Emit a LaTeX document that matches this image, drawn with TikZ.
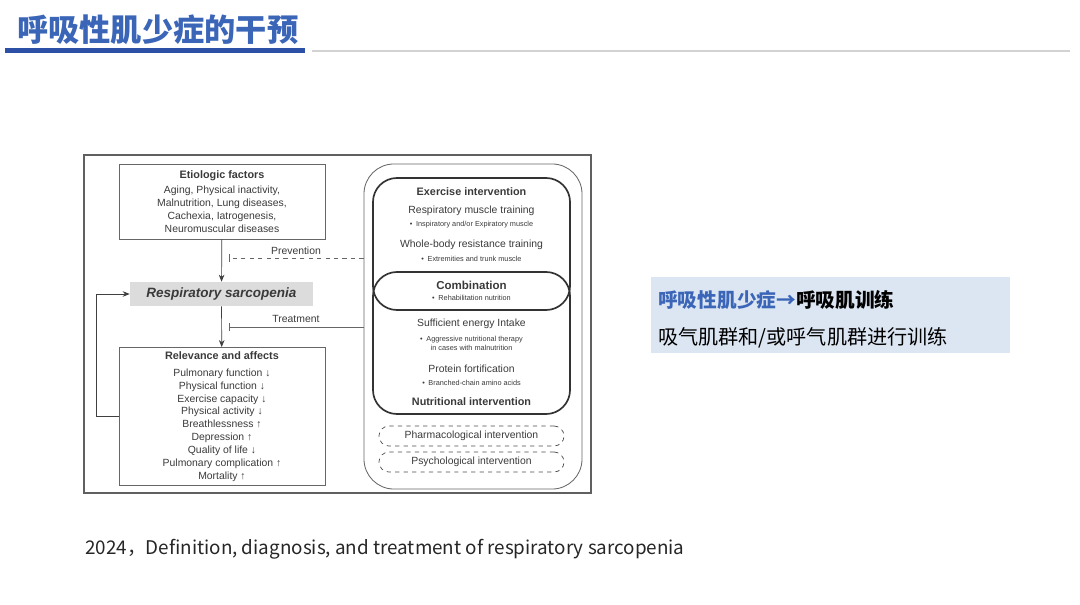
\documentclass[tikz,border=0pt]{standalone}
\usepackage{fontspec}
\setmainfont{Liberation Sans}
\newfontfamily\cjk{Noto Sans CJK SC}
\usetikzlibrary{arrows.meta,positioning,calc}

\definecolor{titleblue}{HTML}{3B66B8}
\definecolor{barblue}{HTML}{2C50A6}
\definecolor{panelblue}{HTML}{DCE5F2}
\definecolor{figtext}{HTML}{3A3A3A}
\definecolor{sarcgray}{HTML}{DCDCDC}

\tikzset{
  box/.style={draw=gray!80!black, line width=0.6pt},
  ivbox/.style={draw=black!80, line width=1.2pt, rounded corners=0.6cm},
  optbox/.style={draw=black!70, dashed, line width=0.5pt, rounded corners=0.25cm},
  arr/.style={-{Stealth[length=5pt,width=4pt]}, line width=0.5pt, draw=black!75},
  inhib/.style={-{Bar[width=6pt]}, line width=0.5pt, draw=black!60},
  txt/.style={font=\fontsize{7.4}{9.2}\selectfont, text=figtext, align=center, inner sep=0pt},
  small/.style={font=\fontsize{5.2}{6.4}\selectfont, text=figtext, align=center, inner sep=0pt},
  head/.style={font=\fontsize{7.7}{9}\selectfont\bfseries, text=figtext, inner sep=0pt},
}

\begin{document}
\begin{tikzpicture}[x=0.025cm, y=-0.025cm]
  \useasboundingbox (0,0) rectangle (1080,605);

  % slide title
  \node[anchor=west, inner sep=0pt, font=\cjk\bfseries\fontsize{22.2}{26}\selectfont,
    text=titleblue] (title) at (17,30) {呼吸性肌少症的干预};
  \fill[barblue] (5,48) rectangle (305,53);
  \draw[gray!35, line width=0.8pt] (312,51) -- (1070,51);

  % figure frame
  \node[draw=gray!75!black, line width=0.9pt, minimum width=12.675cm,
    minimum height=8.45cm] (frame) at (337.5,324) {};

  % left column
  \node[box, txt, minimum width=5.15cm, minimum height=1.875cm] (etio) at (222,201.5)
    {\textbf{\fontsize{7.7}{9}\selectfont Etiologic factors}\\[1.8pt]
     Aging, Physical inactivity,\\ Malnutrition, Lung diseases,\\
     Cachexia, Iatrogenesis,\\ Neuromuscular diseases};
  \node[fill=sarcgray, minimum width=4.575cm, minimum height=0.6cm, inner sep=0pt,
    font=\fontsize{9.6}{11}\selectfont\bfseries\itshape, text=figtext]
    (sarc) at (221.5,294) {Respiratory sarcopenia};
  \node[box, txt, minimum width=5.15cm, minimum height=3.45cm] (rel) at (222,416.5)
    {\textbf{\fontsize{7.7}{9}\selectfont Relevance and affects}\\[3pt]
     Pulmonary function ↓\\ Physical function ↓\\ Exercise capacity ↓\\
     Physical activity ↓\\ Breathlessness ↑\\ Depression ↑\\ Quality of life ↓\\
     Pulmonary complication ↑\\ Mortality ↑};

  \draw[arr] (etio) -- (sarc);
  \draw[arr] (sarc) -- (rel);
  \draw[arr] (rel.west) -- ++(-22,0) |- (sarc.west);

  % interventions
  \node[draw=black!60, line width=0.6pt, rounded corners=0.75cm, minimum width=5.45cm,
    minimum height=8.125cm] (outer) at (473,326.5) {};
  \node[ivbox, minimum width=4.925cm, minimum height=3.3cm] (exer) at (471.5,244) {};
  \node[ivbox, minimum width=4.925cm, minimum height=3.55cm] (nutr) at (471.5,343) {};

  \node[head] (exertitle) at (471.5,192) {Exercise intervention};
  \node[txt] (rmt) at (471.5,211) {Respiratory muscle training};
  \node[small] (rmtsub) at (471.5,225) {•\enspace Inspiratory and/or Expiratory muscle};
  \node[txt] (wbt) at (471.5,245) {Whole-body resistance training};
  \node[small] (wbtsub) at (471.5,259) {•\enspace Extremities and trunk muscle};
  \node[head, font=\fontsize{8.2}{9}\selectfont\bfseries] (comb) at (471.5,285) {Combination};
  \node[small] (combsub) at (471.5,298) {•\enspace Rehabilitation nutrition};
  \node[txt] (energy) at (471.5,324) {Sufficient energy Intake};
  \node[small] (energysub) at (471.5,343.5)
    {•\enspace Aggressive nutritional therapy\\ in cases with malnutrition};
  \node[txt] (protein) at (471.5,369) {Protein fortification};
  \node[small] (proteinsub) at (471.5,383) {•\enspace Branched-chain amino acids};
  \node[head] (nutrtitle) at (471.5,402) {Nutritional intervention};

  \node[optbox, txt, minimum width=4.625cm, minimum height=0.5cm] (pharm) at (471.5,436)
    {Pharmacological intervention};
  \node[optbox, txt, minimum width=4.625cm, minimum height=0.5cm] (psych) at (471.5,462)
    {Psychological intervention};

  % prevention / treatment
  \coordinate (prevEnd) at (229,258);
  \coordinate (treatEnd) at (229,327);
  \draw[inhib, dashed] (outer.west |- prevEnd) -- (prevEnd);
  \draw[inhib] (outer.west |- treatEnd) -- (treatEnd);
  \node[txt] (prevlbl) at (296,251) {Prevention};
  \node[txt] (treatlbl) at (296,318.5) {Treatment};

  % side panel
  \node[fill=panelblue, minimum width=8.975cm, minimum height=1.9cm, inner sep=0pt]
    (panel) at (830.5,315) {};
  \node[anchor=west, inner sep=0pt, font=\cjk\bfseries\fontsize{14}{16}\selectfont]
    (pline1) at (658,300) {\textcolor{titleblue}{呼吸性肌少症→}呼吸肌训练};
  \node[anchor=west, inner sep=0pt, font=\cjk\fontsize{14.3}{16}\selectfont]
    (pline2) at (658,338) {吸气肌群和/或呼气肌群进行训练};

  % reference
  \node[anchor=west, inner sep=0pt, font=\cjk\fontsize{13.4}{15}\selectfont, text=black!85]
    (cite) at (85,549) {2024，Definition, diagnosis, and treatment of respiratory sarcopenia};
\end{tikzpicture}
\end{document}
